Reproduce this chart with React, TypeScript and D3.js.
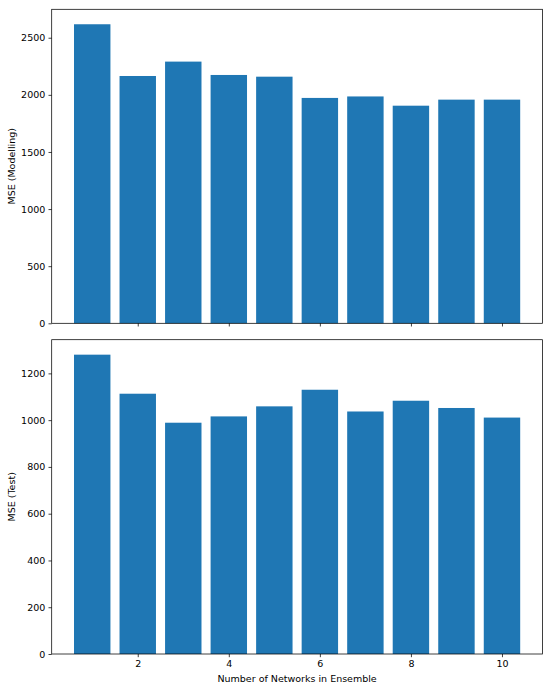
import { useRef, useEffect } from 'react';
import * as d3 from 'd3';

const networks = [1, 2, 3, 4, 5, 6, 7, 8, 9, 10];
const mseModelling = [2618, 2165, 2291, 2174, 2159, 1973, 1986, 1905, 1958, 1958];
const mseTest = [1280, 1113, 989, 1016, 1059, 1130, 1037, 1083, 1052, 1011];
const modellingTicks = [0, 500, 1000, 1500, 2000, 2500];
const testTicks = [0, 200, 400, 600, 800, 1000, 1200];
const xTicks = [2, 4, 6, 8, 10];

const WIDTH = 550;
const HEIGHT = 690;
const BAR_COLOR = '#1f77b4';
const FONT = 'DejaVu Sans, sans-serif';
const FONT_SIZE = '9.5px';

export default function App() {
    const svgRef = useRef<SVGSVGElement>(null);

    useEffect(() => {
        if (!svgRef.current) return;
        const svg = d3.select(svgRef.current);
        svg.selectAll('*').remove();

        const left = 51.7;
        const right = 542.5;
        const barWidth = 0.8;

        const xScale = d3.scaleLinear()
            .domain([1 - barWidth / 2 - 0.49, 10 + barWidth / 2 + 0.49])
            .range([left, right]);

        const panels = [
            { values: mseModelling, ticks: modellingTicks, label: 'MSE (Modelling)', top: 9.3, bottom: 323.3, showX: false },
            { values: mseTest, ticks: testTicks, label: 'MSE (Test)', top: 339.7, bottom: 654, showX: true },
        ];

        panels.forEach(p => {
            const yScale = d3.scaleLinear()
                .domain([0, (d3.max(p.values) || 0) * 1.05])
                .range([p.bottom, p.top]);

            const g = svg.append('g');

            // Bars
            g.selectAll('rect')
                .data(p.values)
                .enter()
                .append('rect')
                .attr('x', (_, i) => xScale(networks[i] - barWidth / 2))
                .attr('width', xScale(barWidth) - xScale(0))
                .attr('y', d => yScale(d))
                .attr('height', d => p.bottom - yScale(d))
                .attr('fill', BAR_COLOR);

            // Y axis
            const yAxis = g.append('g')
                .attr('transform', `translate(${left},0)`)
                .call(d3.axisLeft(yScale).tickValues(p.ticks).tickSize(3.2).tickPadding(3.2).tickFormat(d => String(d)));
            yAxis.select('.domain').remove();

            // X axis
            const xAxis = g.append('g')
                .attr('transform', `translate(0,${p.bottom})`)
                .call(d3.axisBottom(xScale).tickValues(xTicks).tickSize(3.2).tickPadding(3.2)
                    .tickFormat(d => (p.showX ? String(d) : '')));
            xAxis.select('.domain').remove();

            [yAxis, xAxis].forEach(a => {
                a.selectAll('text')
                    .attr('fill', '#000')
                    .attr('font-family', FONT)
                    .attr('font-size', FONT_SIZE);
                a.selectAll('.tick line').attr('stroke', '#000').attr('stroke-width', 0.75);
            });

            // Frame
            g.append('rect')
                .attr('x', left)
                .attr('y', p.top)
                .attr('width', right - left)
                .attr('height', p.bottom - p.top)
                .attr('fill', 'none')
                .attr('stroke', '#000')
                .attr('stroke-width', 0.75);

            // Y label
            g.append('text')
                .attr('transform', `translate(14.5,${(p.top + p.bottom) / 2}) rotate(-90)`)
                .attr('text-anchor', 'middle')
                .attr('font-family', FONT)
                .attr('font-size', FONT_SIZE)
                .attr('fill', '#000')
                .text(p.label);
        });

        // X label
        svg.append('text')
            .attr('x', (left + right) / 2)
            .attr('y', 681.5)
            .attr('text-anchor', 'middle')
            .attr('font-family', FONT)
            .attr('font-size', FONT_SIZE)
            .attr('fill', '#000')
            .text('Number of Networks in Ensemble');
    }, []);

    return (
        <svg
            ref={svgRef}
            width={WIDTH}
            height={HEIGHT}
            style={{ position: 'absolute', left: 0, top: 0, background: '#fff' }}
        />
    );
}
